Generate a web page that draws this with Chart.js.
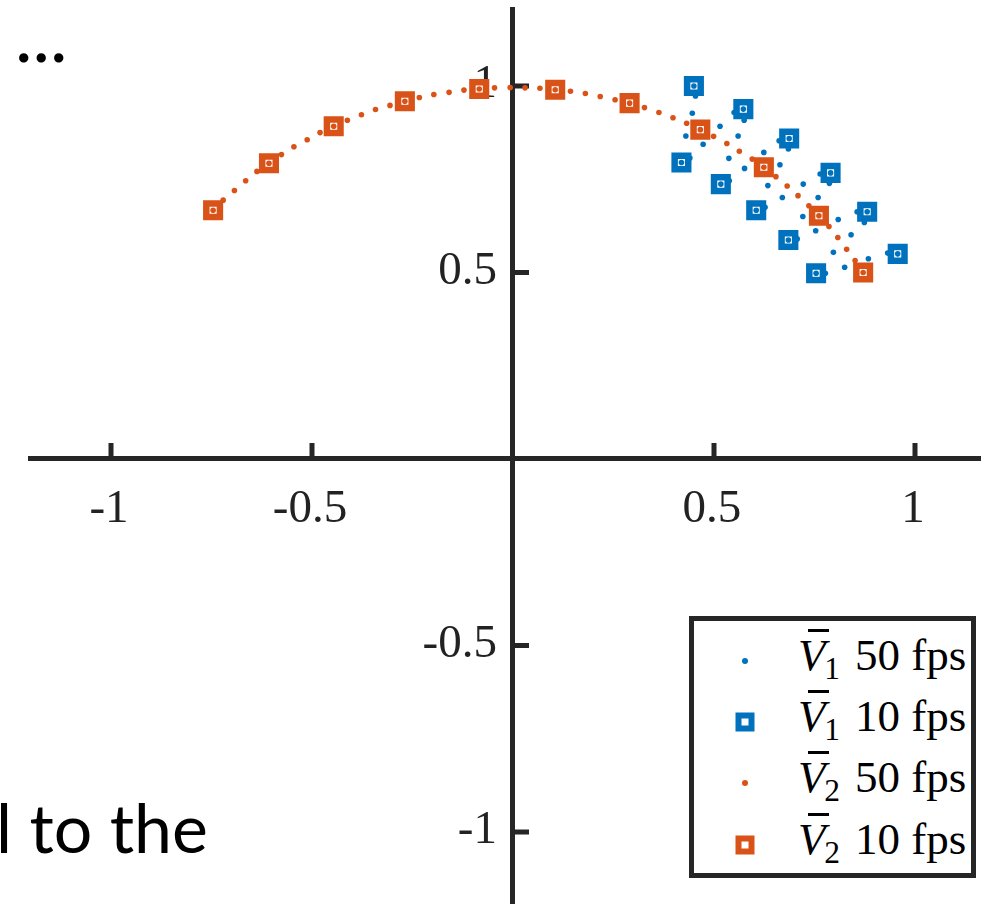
<!DOCTYPE html>
<html>
<head>
<meta charset="utf-8">
<script src="https://cdn.jsdelivr.net/npm/chart.js@4.4.1/dist/chart.umd.min.js"></script>
<style>
  body { margin: 0; background: #fff; }
  #wrap { position: relative; width: 983px; height: 904px; overflow: hidden; }
  #plot { position: absolute; left: 0; top: 0; }
  .slide { position: absolute; font-family: Lato, "Open Sans", sans-serif; color: #000; white-space: nowrap; line-height: 1; }
  #dots { left: 15px; top: -3px; font-size: 74px; }
  #bottomText { left: -4px; top: 793px; font-size: 68px; }
  #legend { position: absolute; left: 689px; top: 616px; width: 277px; height: 252px;
            border: 5px solid #262626; background: #fff; }
  .row { position: absolute; left: 0; height: 60px; width: 100%; }
  .mk { position: absolute; left: 51px; top: 50%; transform: translate(-50%, -50%); }
  .dot { width: 6px; height: 6px; border-radius: 50%; }
  .sq { width: 7px; height: 7px; border: 6px solid; background: #fff; }
  .lbl { position: absolute; left: 104px; top: 2px; font-family: "Liberation Serif", "DejaVu Serif", serif;
         font-size: 45px; color: #000; line-height: 1; }
  .v { font-style: italic; position: relative; }
  .v::before { content: ""; position: absolute; left: 0.22em; top: -0.02em; width: 0.46em; height: 2.5px; background: #000; }
  sub { font-size: 0.7em; vertical-align: -0.3em; line-height: 0; margin-left: -0.04em; margin-right: 0.12em; }
</style>
</head>
<body>
<div id="wrap">
  <canvas id="plot" width="983" height="904"></canvas>
  <div class="slide" id="dots">...</div>
  <div class="slide" id="bottomText">l to the</div>
  <div id="legend"></div>
</div>
<script>
// warna ala MATLAB
const blue = "#0072BD";
const orange = "#D95319";
const axisColor = "#262626";

// batas sumbu
const xMin = -1.2015, xMax = 1.1617;
const yMin = -1.193, yMax = 1.2064;

// label tick
const xTicks = [-1, -0.5, 0.5, 1];
const yTicks = [-1, -0.5, 0.5, 1];

// V1 50 fps (titik kecil biru)
const v1FastX = [0.450, 0.454, 0.446, 0.430, 0.440, 0.419, 0.473, 0.515, 0.550, 0.573, 0.575, 0.560, 0.537, 0.538, 0.517,
  0.576, 0.624, 0.662, 0.687, 0.685, 0.664, 0.634, 0.627, 0.605, 0.670, 0.722, 0.764, 0.790, 0.787, 0.759, 0.721, 0.707,
  0.685, 0.753, 0.809, 0.856, 0.881, 0.874, 0.841, 0.797, 0.777, 0.754, 0.825, 0.884, 0.932, 0.957];
const v1FastY = [1.000, 0.973, 0.927, 0.866, 0.807, 0.795, 0.844, 0.892, 0.929, 0.938, 0.908, 0.866, 0.806, 0.746, 0.737,
  0.779, 0.822, 0.853, 0.859, 0.831, 0.789, 0.733, 0.675, 0.667, 0.701, 0.737, 0.764, 0.767, 0.739, 0.701, 0.650, 0.590,
  0.587, 0.612, 0.642, 0.663, 0.663, 0.634, 0.601, 0.554, 0.498, 0.498, 0.514, 0.537, 0.552, 0.550];

// V1 10 fps (kotak biru)
const v1SlowX = [0.450, 0.419, 0.573, 0.517, 0.687, 0.605, 0.790, 0.685, 0.881, 0.754, 0.957];
const v1SlowY = [1.000, 0.795, 0.938, 0.737, 0.859, 0.667, 0.767, 0.587, 0.663, 0.498, 0.550];

// V2 50 fps (titik kecil oranye)
const v2FastX = [-0.746, -0.721, -0.693, -0.665, -0.637, -0.607, -0.576, -0.545, -0.512, -0.480, -0.446, -0.412, -0.377,
  -0.342, -0.306, -0.269, -0.233, -0.197, -0.159, -0.122, -0.084, -0.046, -0.007, 0.030, 0.067, 0.105, 0.143, 0.180,
  0.217, 0.254, 0.290, 0.327, 0.363, 0.398, 0.432, 0.466, 0.499, 0.532, 0.563, 0.595, 0.624, 0.654, 0.682, 0.709,
  0.736, 0.761, 0.786, 0.808, 0.830, 0.851, 0.871];
const v2FastY = [0.667, 0.694, 0.720, 0.746, 0.771, 0.793, 0.816, 0.837, 0.856, 0.875, 0.892, 0.908, 0.923, 0.937, 0.948,
  0.959, 0.969, 0.977, 0.983, 0.989, 0.992, 0.995, 0.996, 0.995, 0.994, 0.990, 0.986, 0.980, 0.972, 0.963, 0.954,
  0.942, 0.929, 0.915, 0.900, 0.883, 0.865, 0.846, 0.825, 0.804, 0.782, 0.757, 0.732, 0.706, 0.679, 0.652, 0.623,
  0.594, 0.562, 0.532, 0.500];

// V2 10 fps (kotak oranye)
const v2SlowX = [-0.746, -0.607, -0.446, -0.269, -0.084, 0.105, 0.290, 0.466, 0.624, 0.761, 0.871];
const v2SlowY = [0.667, 0.793, 0.892, 0.959, 0.992, 0.990, 0.954, 0.883, 0.782, 0.652, 0.500];

const legendItems = [
  { sub: "1", text: "50 fps", color: blue, kind: "dot" },
  { sub: "1", text: "10 fps", color: blue, kind: "sq" },
  { sub: "2", text: "50 fps", color: orange, kind: "dot" },
  { sub: "2", text: "10 fps", color: orange, kind: "sq" },
];

function pts(xs, ys) {
  return xs.map((x, i) => ({ x: x, y: ys[i] }));
}

function dotSet(label, xs, ys, color) {
  return {
    label: label, data: pts(xs, ys), showLine: false, order: 0,
    pointStyle: "circle", pointRadius: 2.8, pointHoverRadius: 2.8,
    pointBackgroundColor: color, pointBorderWidth: 0,
  };
}

function squareSet(label, xs, ys, color) {
  return {
    label: label, data: pts(xs, ys), showLine: false, order: 1,
    pointStyle: "rect", pointRadius: 9.6, pointHoverRadius: 9.6,
    pointBackgroundColor: "#fff", pointBorderColor: color, pointBorderWidth: 6.5,
  };
}

const tickFont = "47px 'Liberation Serif', 'DejaVu Serif', serif";

// tick kecil ke arah dalam (atas / kanan) + label kedua sumbu
const originAxes = {
  id: "originAxes",
  beforeDatasetsDraw(chart) {
    const c = chart.ctx, sx = chart.scales.x, sy = chart.scales.y;
    const x0 = sx.getPixelForValue(0), y0 = sy.getPixelForValue(0);
    c.save();
    c.fillStyle = axisColor;
    xTicks.forEach(v => {
      const px = sx.getPixelForValue(v);
      c.fillRect(px - 2.5, y0 - 16, 5, 16);
    });
    yTicks.forEach(v => {
      const py = sy.getPixelForValue(v);
      c.fillRect(x0, py - 2.5, 16, 5);
    });
    c.fillStyle = "#222";
    c.font = tickFont;
    c.textBaseline = "middle";
    c.textAlign = "center";
    xTicks.forEach(v => {
      c.fillText(String(v), sx.getPixelForValue(v) - 2, y0 + 51);
    });
    c.textAlign = "right";
    yTicks.forEach(v => {
      c.fillText(String(v), x0 - 16, sy.getPixelForValue(v) - 1);
    });
    c.restore();
  },
};

new Chart(document.getElementById("plot"), {
  type: "scatter",
  data: {
    datasets: [
      dotSet("V1 50 fps", v1FastX, v1FastY, blue),
      squareSet("V1 10 fps", v1SlowX, v1SlowY, blue),
      dotSet("V2 50 fps", v2FastX, v2FastY, orange),
      squareSet("V2 10 fps", v2SlowX, v2SlowY, orange),
    ],
  },
  options: {
    responsive: false,
    animation: false,
    events: [],
    layout: { autoPadding: false, padding: { left: 30, right: 3, top: 9, bottom: 0 } },
    plugins: { legend: { display: false }, tooltip: { enabled: false } },
    scales: {
      x: {
        type: "linear", min: xMin, max: xMax,
        position: { y: 0 },
        afterFit: s => { s.height = 0; },
        afterBuildTicks: s => { s.ticks = xTicks.map(v => ({ value: v })); },
        grid: { display: false, drawTicks: false },
        border: { display: true, width: 5, color: axisColor },
        ticks: { display: false },
      },
      y: {
        type: "linear", min: yMin, max: yMax,
        position: { x: 0 },
        afterFit: s => { s.width = 0; },
        afterBuildTicks: s => { s.ticks = yTicks.map(v => ({ value: v })); },
        grid: { display: false, drawTicks: false },
        border: { display: true, width: 5, color: axisColor },
        ticks: { display: false },
      },
    },
  },
  plugins: [originAxes],
});

// legenda HTML
const legend = document.getElementById("legend");
const rowTops = [10, 71, 132, 194];
legendItems.forEach((it, i) => {
  const row = document.createElement("div");
  row.className = "row";
  row.style.top = (rowTops[i]) + "px";
  const mk = document.createElement("span");
  mk.className = "mk " + it.kind;
  if (it.kind === "dot") mk.style.background = it.color;
  else mk.style.borderColor = it.color;
  const lbl = document.createElement("span");
  lbl.className = "lbl";
  lbl.innerHTML = '<span class="v">V</span><sub>' + it.sub + "</sub>&nbsp;" + it.text;
  row.appendChild(mk);
  row.appendChild(lbl);
  legend.appendChild(row);
});
</script>
</body>
</html>
